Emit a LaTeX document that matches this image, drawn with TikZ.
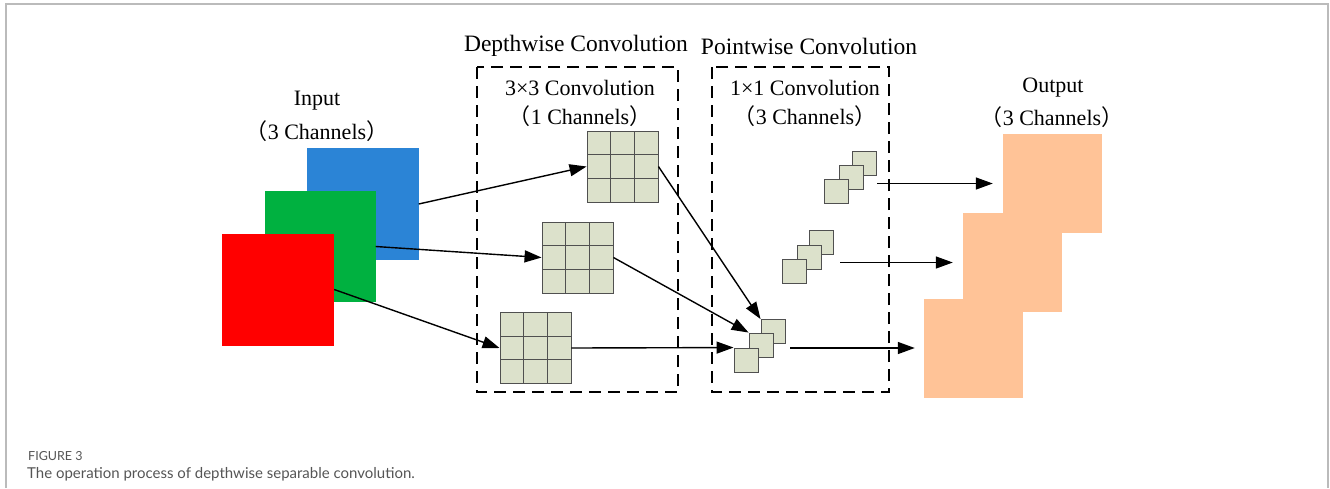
\documentclass[tikz,border=0pt]{standalone}
\usepackage{fontspec}
\setmainfont{Liberation Serif}
\newfontfamily\capfont{Lato}
\newfontfamily\cjk{Noto Sans CJK SC}
\usetikzlibrary{arrows.meta,calc}
\definecolor{inblue}{HTML}{2B84D6}
\definecolor{ingreen}{HTML}{00B140}
\definecolor{inred}{HTML}{FF0000}
\definecolor{peach}{HTML}{FFC397}
\definecolor{kfill}{HTML}{DCE1CB}
\definecolor{kline}{HTML}{505050}
\definecolor{framegray}{HTML}{BBBBBB}
\definecolor{capgray}{HTML}{555555}
\tikzset{
  lbl/.style={font=\fontsize{22}{26}\selectfont, inner sep=0pt, align=center},
  ttl/.style={font=\fontsize{23.5}{26}\selectfont, inner sep=0pt},
  chan/.style={draw=none, inner sep=0pt, minimum size=#1},
  gridbox/.style={draw=kline, fill=kfill, line width=0.9pt, inner sep=0pt, minimum size=71pt,
    path picture={
      \foreach \f in {0.3333,0.6667}{
        \draw[kline, line width=0.9pt] ($(path picture bounding box.south west)!\f!(path picture bounding box.south east)$) -- ($(path picture bounding box.north west)!\f!(path picture bounding box.north east)$);
        \draw[kline, line width=0.9pt] ($(path picture bounding box.south west)!\f!(path picture bounding box.north west)$) -- ($(path picture bounding box.south east)!\f!(path picture bounding box.north east)$);
      }}},
  small/.style={draw=kline, fill=kfill, line width=0.9pt, inner sep=0pt, minimum size=24pt},
  dbox/.style={draw=black, line width=1.8pt, dash pattern=on 12pt off 7pt},
  arr/.style={draw=black, line width=1.4pt, -{Triangle[length=17pt,width=12pt]}},
}
\begin{document}
\begin{tikzpicture}[x=1pt,y=-1pt]
\useasboundingbox (0,0) rectangle (1330,488);
% frame
\draw[framegray, line width=1.5pt] (6,488) -- (6,4) -- (1328,4) -- (1328,488);

% input
\node[lbl] (inlab) at (317,101) {Input};
\node[lbl] (inlab2) at (317,131) {{\cjk （}3 Channels{\cjk ）}};
\node[chan=112pt, fill=inblue] (blue) at (362.5,204) {};
\node[chan=111pt, fill=ingreen] (green) at (320,246.5) {};
\node[chan=112pt, fill=inred] (red) at (278,289.5) {};

% depthwise box
\node[ttl] (dwt) at (576,46) {Depthwise Convolution};
\draw[dbox] (477,67) rectangle (678,392);
\node[lbl] (dwl) at (580,88) {3×3 Convolution};
\node[lbl] (dwl2) at (580,116) {{\cjk （}1 Channels{\cjk ）}};
\node[gridbox] (g1) at (622.5,166.5) {};
\node[gridbox] (g2) at (577.5,257.5) {};
\node[gridbox] (g3) at (535.5,348) {};

% pointwise box
\node[ttl] (pwt) at (809,46) {Pointwise Convolution};
\draw[dbox] (712,67) rectangle (889,392);
\node[lbl] (pwl) at (805,88) {1×1 Convolution};
\node[lbl] (pwl2) at (805,116) {{\cjk （}3 Channels{\cjk ）}};

% top stack
\node[small] (t3) at (864,163.5) {};
\node[small] (t2) at (851,177.5) {};
\node[small] (t1) at (836,191.5) {};
% mid stack
\node[small] (m3) at (821,242.5) {};
\node[small] (m2) at (809,257) {};
\node[small] (m1) at (794.5,271) {};
% bottom stack
\node[small] (b3) at (773,331.5) {};
\node[small] (b2) at (761,345) {};
\node[small] (b1) at (746,360) {};

% output
\node[lbl] (outl) at (1053,88) {Output};
\node[lbl] (outl2) at (1052,117) {{\cjk （}3 Channels{\cjk ）}};
\node[chan=99pt, fill=peach] (o1) at (1052.5,183.5) {};
\node[chan=99pt, fill=peach] (o2) at (1012.5,262.5) {};
\node[chan=99pt, fill=peach] (o3) at (973.5,348) {};

% arrows input -> depthwise
\draw[arr] (blue.east) -- (g1.west);
\draw[arr] (green.east) -- (g2.west);
\draw[arr] (red.east) -- (g3.west);

% depthwise -> pointwise
\draw[arr] (g1.east) -- (b3.north west);
\draw[arr] (g2.east) -- (b2.north west);
\draw[arr] (g3.east) -- (b1.north west);

% pointwise -> output
\coordinate (ts) at (877,183.5);
\coordinate (ms) at (840,262.5);
\coordinate (bs) at (790,348);
\draw[arr, shorten >=10pt] (ts) -- (o1.west);
\draw[arr, shorten >=10pt] (ms) -- (o2.west);
\draw[arr, shorten >=9pt] (bs) -- (o3.west);

% caption
\node[anchor=base west, inner sep=0pt, text=capgray, font=\capfont\fontsize{12.5}{15}\selectfont] (fig) at (28,460) {FIGURE 3};
\node[anchor=base west, inner sep=0pt, text=capgray, font=\capfont\fontsize{15}{18}\selectfont] (cap) at (27,478) {The operation process of depthwise separable convolution.};
\end{tikzpicture}
\end{document}
